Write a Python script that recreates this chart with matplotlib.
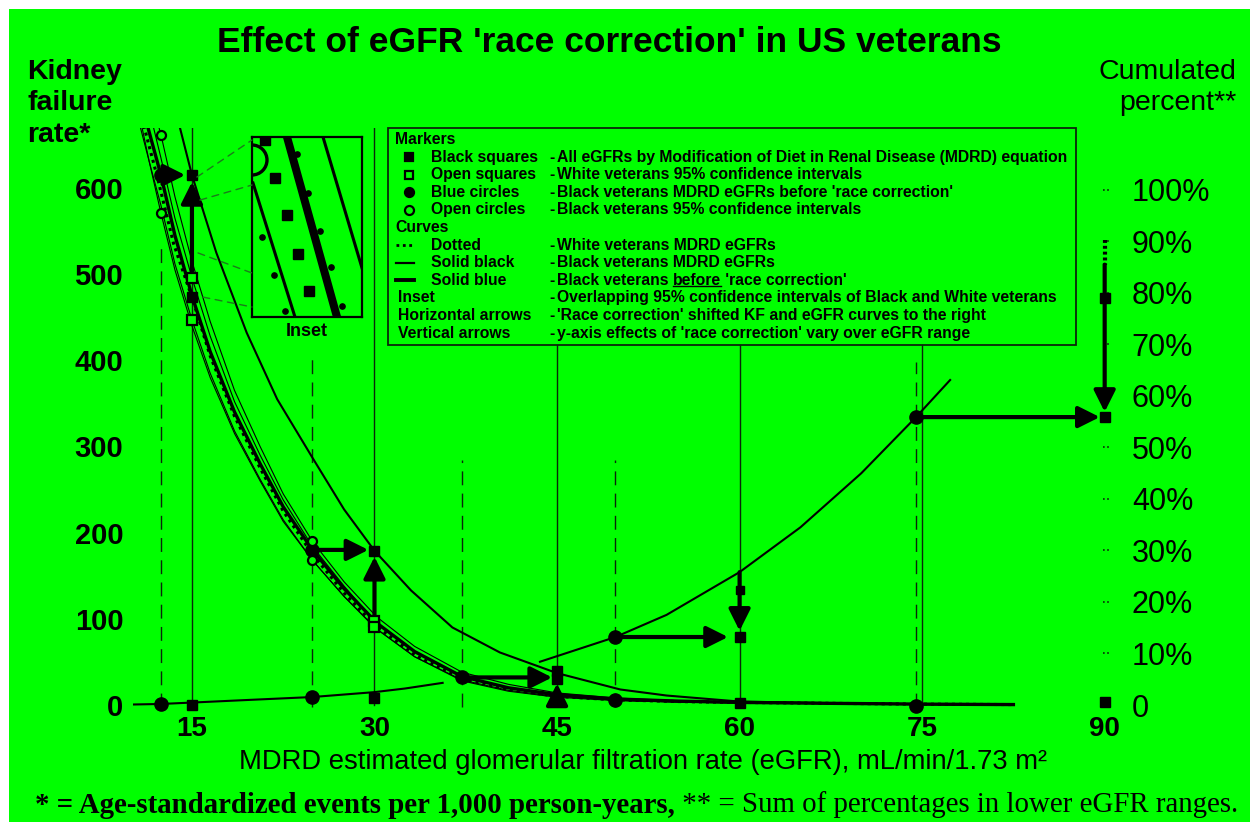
import matplotlib
matplotlib.use("Agg")
import matplotlib.pyplot as plt
from matplotlib.patches import Rectangle, Circle, ConnectionPatch
from matplotlib.lines import Line2D

plt.rcParams['font.family'] = ['Liberation Sans', 'DejaVu Sans']

# ---------------------------------------------------------------- data
title = "Effect of eGFR 'race correction' in US veterans"
left_title = ["Kidney", "failure", "rate*"]
right_title = ["Cumulated", "percent**"]
x_label = "MDRD estimated glomerular filtration rate (eGFR), mL/min/1.73 m\u00b2"
foot_bold = "* = Age-standardized events per 1,000 person-years,"
foot_normal = " ** = Sum of percentages in lower eGFR ranges."

x_ticks = [15, 30, 45, 60, 75, 90]
x_ticklabels = ["15", "30", "45", "60", "75", "90"]
y_ticks = [0, 100, 200, 300, 400, 500, 600]
y_ticklabels = ["0", "100", "200", "300", "400", "500", "600"]
pct_ticks = [0, 10, 20, 30, 40, 50, 60, 70, 80, 90, 100]
pct_ticklabels = ["0", "10%", "20%", "30%", "40%", "50%", "60%", "70%", "80%", "90%", "100%"]

# eGFR cut points after (MDRD) and before 'race correction'
egfr_after = [15, 30, 45, 60, 75]
egfr_before = [12.45, 24.9, 37.2, 49.8, 74.5]

# Kidney failure rate curves (left axis)
black_before_x = [11.0, 12.45, 13.6, 15.0, 16.5, 18.5, 20.6, 22.5, 24.9, 27.5, 30.2, 33.3, 37.2, 41.0, 45.0, 49.8, 55.0, 60.0, 67.0, 75.0, 82.5]
black_before_y = [690, 615, 545, 475, 410, 340, 280, 230, 180, 135, 95, 62, 33, 20, 12, 7, 4.5, 3, 2, 1, 0.5]
white_x = [10.9, 12.2, 13.5, 15.0, 16.5, 18.5, 20.6, 22.5, 24.9, 27.5, 30.0, 33.3, 37.2, 41.0, 45.0, 49.8, 55.0, 60.0, 67.0, 75.0, 82.5]
white_y = [680, 610, 535, 473, 405, 335, 275, 225, 175, 130, 93, 58, 30, 18, 10, 6, 4, 3, 2, 1, 0.5]
black_ci_hi_x = [11.9, 12.45, 13.6, 15.0, 16.5, 18.5, 20.6, 22.5, 24.9, 27.5, 30.2, 33.3, 37.2, 41.0, 45.0, 50.0, 55.0, 60.0, 70.0, 82.5]
black_ci_hi_y = [690, 662, 590, 515, 445, 365, 300, 245, 190, 143, 102, 68, 38, 24, 14, 8, 5, 3.5, 2, 0.6]
black_ci_lo_x = [10.4, 11.5, 12.45, 13.6, 15.0, 16.5, 18.5, 20.6, 22.5, 24.9, 27.5, 30.2, 33.3, 37.2, 41.0, 45.0, 50.0, 55.0, 60.0, 70.0, 82.5]
black_ci_lo_y = [690, 630, 571, 505, 440, 380, 315, 260, 213, 168, 126, 88, 56, 29, 17, 10, 5.5, 3.5, 2.5, 1.2, 0.4]
white_ci_hi_x = [11.5, 12.45, 13.6, 15.0, 16.5, 18.5, 20.6, 22.5, 24.9, 27.5, 30.0, 33.3, 37.2, 41.0, 45.0, 50.0, 55.0, 60.0, 70.0, 82.5]
white_ci_hi_y = [690, 635, 565, 496, 428, 352, 290, 238, 184, 138, 97, 62, 33, 20, 11, 6.5, 4.2, 3, 1.6, 0.5]
white_ci_lo_x = [10.6, 11.5, 12.45, 13.6, 15.0, 16.5, 18.5, 20.6, 22.5, 24.9, 27.5, 30.0, 33.3, 37.2, 41.0, 45.0, 50.0, 55.0, 60.0, 70.0, 82.5]
white_ci_lo_y = [690, 630, 580, 512, 447, 385, 318, 262, 215, 168, 126, 90, 56, 28, 16, 9, 5, 3.3, 2.4, 1.2, 0.4]
black_after_x = [13.4, 13.85, 15.0, 17.0, 19.5, 22.0, 24.9, 27.5, 30.0, 33.0, 36.4, 40.3, 45.0, 50.2, 54.0, 60.0, 68.0, 77.3, 82.5]
black_after_y = [700, 679, 615, 525, 432, 355, 287, 227, 179, 133, 90, 61, 37, 18, 11, 4, 2, 0.6, 0.3]

# Cumulated percent curves (right axis)
cum_low_x = [10.2, 12.45, 15.7, 19.8, 24.9, 30.0, 32.5, 35.6]
cum_low_p = [0.1, 0.2, 0.55, 1.0, 1.55, 2.5, 3.2, 4.3]
cum_high_x = [43.6, 49.8, 54.0, 60.0, 65.0, 70.0, 74.5, 77.3]
cum_high_p = [8.4, 13.2, 17.5, 25.8, 34.5, 45.0, 55.9, 63.1]

# Markers, left axis
circle_x = [12.45, 24.9, 37.2, 49.8, 74.5]
circle_y = [615, 180, 32, 6, -1]
square_x = [15, 30, 45, 45, 15, 30, 60]
square_y = [615, 179, 40, 30, 473, 93, 2.3]
open_square_x = [15, 15, 30, 30]
open_square_y = [496, 447, 97, 90]
open_circle_x = [12.45, 12.45, 24.9, 24.9]
open_circle_y = [662, 571, 190, 168]
# Markers, right axis
pct_circle_x = [12.45, 24.9, 49.8, 74.5]
pct_circle_p = [0.2, 1.55, 13.2, 55.9]
pct_square_x = [15, 30, 60, 90, 90, 90]
pct_square_p = [0.0, 1.4, 13.2, 55.9, 0.5, 79.0]
pct_small_square_x = [60]
pct_small_square_p = [22.3]

# Arrows (start -> tip), left axis
h_arrows = [(12.45, 14.45, 615), (24.9, 29.5, 180), (37.2, 44.6, 32)]
v_arrows = [(15, 500, 607), (30, 97, 172), (45, 6, 25)]
# Arrows, right axis
pct_h_arrows = [(49.8, 59.05, 13.2), (74.5, 89.6, 55.9)]
pct_v_arrows = [(60, 25.8, 14.4), (90, 85.5, 56.9)]
pct_dotted_stub = (90, 90.3, 85.5)

# Inset (magnified overlap; inset's own pixel-like units 110 x 180)
inset_src_x = [15.41, 15.66, 15.5, 15.9]
inset_src_y = [612.7, 586.0, 524.6, 473.4]
inset_thin_a = ([1, 43], [134, 0])
inset_thick = ([35, 85], [180, 0])
inset_thin_b = ([71, 110], [180, 49])
inset_sq_x = [13, 23, 35, 46, 57]
inset_sq_y = [177, 139, 102, 63, 26]
inset_dot_x = [45, 56, 68, 79, 90, 10, 22, 33]
inset_dot_y = [163, 124, 86, 50, 11, 80, 42, 6]
inset_circle = (0, 157, 15)

# Legend contents
legend_marker_rows = [
    ('s', True, 'Black squares', 'All eGFRs by Modification of Diet in Renal Disease (MDRD) equation'),
    ('s', False, 'Open squares', 'White veterans 95% confidence intervals'),
    ('o', True, 'Blue circles', "Black veterans MDRD eGFRs before 'race correction'"),
    ('o', False, 'Open circles', 'Black veterans 95% confidence intervals'),
]
legend_curve_rows = [
    ('dotted', 'Dotted', 'White veterans MDRD eGFRs'),
    ('thin', 'Solid black', 'Black veterans MDRD eGFRs'),
    ('thick', 'Solid blue', ("Black veterans ", "before", " 'race correction'")),
]
legend_note_rows = [
    ('Inset', 'Overlapping 95% confidence intervals of Black and White veterans'),
    ('Horizontal arrows', "'Race correction' shifted KF and eGFR curves to the right"),
    ('Vertical arrows', "y-axis effects of 'race correction' vary over eGFR range"),
]

# ---------------------------------------------------------------- style
W, H = 1250, 822
GREEN = '#00ff00'
INK = '#000000'
GUIDE = '#0a260a'


def fx(px):
    return px / W


def fy(py):
    return 1.0 - py / H


fig = plt.figure(figsize=(W / 100, H / 100), dpi=100)
fig.patch.set_facecolor('white')
fig.add_artist(Rectangle((fx(9), 0), 1 - fx(9), fy(9), transform=fig.transFigure,
                         facecolor=GREEN, edgecolor='none', zorder=-10))
renderer = fig.canvas.get_renderer()


def fit_width(t, target):
    bb = t.get_window_extent(renderer=renderer)
    t.set_fontsize(t.get_fontsize() * target / bb.width)


AX_L, AX_R, AX_T, AX_B = 133, 1111, 128, 712
ax = fig.add_axes([fx(AX_L), fy(AX_B), (AX_R - AX_L) / W, (AX_B - AX_T) / H])
YLO, YHI = -8.12, 669.6
ax.set_xlim(10.156, 90.52)
ax.set_ylim(YLO, YHI)
PCT = 100 / 597.7
ax2 = ax.twinx()
ax2.set_ylim(YLO * PCT, YHI * PCT)
for a in (ax, ax2):
    a.set_facecolor('none')
    for s in a.spines.values():
        s.set_visible(False)

ax.set_xticks(x_ticks, x_ticklabels)
ax.tick_params(axis='x', length=0, pad=3, labelsize=20)
ax.set_yticks(y_ticks, y_ticklabels)
ax.tick_params(axis='y', length=0, pad=7, labelsize=21)
for lbl in ax.get_xticklabels() + ax.get_yticklabels():
    lbl.set_fontweight('bold')
ax2.set_yticks(pct_ticks, pct_ticklabels)
ax2.tick_params(axis='y', length=0, pad=15, labelsize=22)

# guide lines
solid_tops = [YHI, YHI, 418, 418, 418]
for x, top in zip(egfr_after, solid_tops):
    ax.plot([x, x], [0, top], color=GUIDE, lw=1.0, zorder=1)
dashed_tops = [534, 404, 284, 284, 398]
for x, top in zip(egfr_before, dashed_tops):
    ax.plot([x, x], [-2, top], color=GUIDE, lw=1.0, linestyle=(0, (10, 6)), zorder=1)

# curves
for xs, ys in [(black_ci_hi_x, black_ci_hi_y), (black_ci_lo_x, black_ci_lo_y),
               (white_ci_hi_x, white_ci_hi_y), (white_ci_lo_x, white_ci_lo_y)]:
    ax.plot(xs, ys, color=INK, lw=0.8, zorder=2)
ax.plot(white_x, white_y, color=INK, lw=2.2, linestyle=(0, (1, 1.3)), zorder=3)
ax.plot(black_before_x, black_before_y, color=INK, lw=2.4, zorder=3)
ax.plot(black_after_x, black_after_y, color=INK, lw=1.5, zorder=3)
ax2.plot(cum_low_x, cum_low_p, color=INK, lw=1.5, zorder=3)
ax2.plot(cum_high_x, cum_high_p, color=INK, lw=1.5, zorder=3)

# arrows
ARW = dict(arrowstyle='-|>,head_length=1.0,head_width=0.5', lw=3.0, color=INK,
           shrinkA=0, shrinkB=0, mutation_scale=13)
for x0, x1, y in h_arrows:
    ax.annotate('', xy=(x1, y), xytext=(x0, y), arrowprops=ARW, zorder=5)
for x, y0, y1 in v_arrows:
    ax.annotate('', xy=(x, y1), xytext=(x, y0), arrowprops=ARW, zorder=5)
for x0, x1, p in pct_h_arrows:
    ax2.annotate('', xy=(x1, p), xytext=(x0, p), arrowprops=ARW, zorder=5)
for x, p0, p1 in pct_v_arrows:
    ax2.annotate('', xy=(x, p1), xytext=(x, p0), arrowprops=ARW, zorder=5)
ax2.plot([pct_dotted_stub[0]] * 2, pct_dotted_stub[1:], color=INK, lw=3,
         linestyle=(0, (0.7, 0.7)), zorder=5)

# markers
ax.plot(circle_x, circle_y, 'o', ms=9.5, color=INK, zorder=6, clip_on=False)
ax.plot(square_x, square_y, 's', ms=7.5, color=INK, zorder=6, clip_on=False)
ax.plot(open_square_x, open_square_y, 's', ms=6.5, mfc=GREEN, mec=INK, mew=1.6, zorder=6)
ax.plot(open_circle_x, open_circle_y, 'o', ms=6.5, mfc=GREEN, mec=INK, mew=1.6, zorder=6)
ax2.plot(pct_circle_x, pct_circle_p, 'o', ms=9.5, color=INK, zorder=6, clip_on=False)
ax2.plot(pct_square_x, pct_square_p, 's', ms=7, color=INK, zorder=6, clip_on=False)
ax2.plot(pct_small_square_x, pct_small_square_p, 's', ms=5.5, color=INK, zorder=6)
for p in pct_ticks[1:]:
    ax2.plot([89.86, 90.43], [p, p], color=GUIDE, lw=1.2, linestyle=(0, (1, 1.5)), zorder=2)

# inset
IN_L, IN_T, IN_R, IN_B = 252, 137, 362, 317
axin = fig.add_axes([fx(IN_L), fy(IN_B), (IN_R - IN_L) / W, (IN_B - IN_T) / H])
axin.set_xlim(0, IN_R - IN_L)
axin.set_ylim(0, IN_B - IN_T)
axin.set_facecolor('none')
axin.set_xticks([])
axin.set_yticks([])
for s in axin.spines.values():
    s.set_linewidth(1.6)
    s.set_color(INK)
axin.plot(*inset_thin_a, color=INK, lw=2.2)
axin.plot(*inset_thin_b, color=INK, lw=2.2)
axin.plot(*inset_thick, color=INK, lw=5.8)
axin.plot(inset_sq_x, inset_sq_y, 's', ms=6.5, color=INK)
axin.plot(inset_dot_x, inset_dot_y, 'o', ms=3.8, color=INK)
axin.add_patch(Circle(inset_circle[:2], inset_circle[2], fill=False, lw=2.4, ec=INK))
dst = [(IN_B - py) / (IN_B - IN_T) for py in (140, 185, 273, 307)]
for sx, sy, d in zip(inset_src_x, inset_src_y, dst):
    con = ConnectionPatch(xyA=(sx, sy), coordsA=ax.transData, xyB=(0, d), coordsB=axin.transAxes,
                          color='#1c7a1c', lw=1.0, linestyle=(0, (5, 4)), zorder=1)
    fig.add_artist(con)
fig.text(fx(307), fy(331), 'Inset', ha='center', va='center', fontsize=13, fontweight='bold')

# texts
t = fig.text(fx(609), fy(42), title, ha='center', va='center', fontsize=21, fontweight='bold')
fit_width(t, 782)
for i, s in enumerate(left_title):
    fig.text(fx(27), fy(72 + 31.5 * i), s, ha='left', va='center', fontsize=20.5, fontweight='bold')
for i, s in enumerate(right_title):
    fig.text(fx(1236), fy(72 + 31.5 * i), s, ha='right', va='center', fontsize=20.5)
t = fig.text(fx(643), fy(762), x_label, ha='center', va='center', fontsize=18)
fit_width(t, 807)

# footnote: bold part followed by normal part, same size, fitted to the full width
FOOT_L, FOOT_R, FOOT_Y = 35, 1240, 805
fb = fig.text(fx(FOOT_L), fy(FOOT_Y), foot_bold, ha='left', va='center', fontsize=19,
              family='Liberation Serif', fontweight='bold')
fn = fig.text(0, fy(FOOT_Y), foot_normal, ha='left', va='center', fontsize=19,
              family='Liberation Serif')
wb = fb.get_window_extent(renderer=renderer).width
wn = fn.get_window_extent(renderer=renderer).width
fs = 19 * (FOOT_R - FOOT_L) / (wb + wn)
fb.set_fontsize(fs)
fn.set_fontsize(fs)
fn.set_x(fx(FOOT_L) + fb.get_window_extent(renderer=renderer).width / W)

# legend
BOX_L, BOX_T, BOX_R, BOX_B = 388, 128, 1076, 345
fig.add_artist(Rectangle((fx(BOX_L), fy(BOX_B)), (BOX_R - BOX_L) / W, (BOX_B - BOX_T) / H,
                         transform=fig.transFigure, facecolor='none', edgecolor=GUIDE, lw=1.3))
row_y = [139.5 + 17.6 * i for i in range(12)]
COL_HEAD, COL_SYM, COL_LAB, COL_DASH, COL_DESC = 395, 409, 431, 549, 557
ref = fig.text(fx(COL_DESC), fy(row_y[1]), legend_marker_rows[0][3], ha='left', va='center',
               fontsize=11, fontweight='bold')
fit_width(ref, 1070 - COL_DESC)
LFS = ref.get_fontsize()
ref.remove()


def ltext(px, row, s, **kw):
    return fig.text(fx(px), fy(row_y[row]), s, ha='left', va='center', fontsize=LFS,
                    fontweight='bold', **kw)


ltext(COL_HEAD, 0, 'Markers')
for i, (mk, filled, lab, desc) in enumerate(legend_marker_rows):
    r = 1 + i
    fig.add_artist(Line2D([fx(COL_SYM)], [fy(row_y[r])], marker=mk, ms=6 if mk == 's' else 6.5,
                          mfc=INK if filled else GREEN, mec=INK, mew=1.6, linestyle='none',
                          transform=fig.transFigure))
    ltext(COL_LAB, r, lab)
    ltext(COL_DASH, r, '-')
    ltext(COL_DESC, r, desc)
ltext(COL_HEAD, 5, 'Curves')
for i, (kind, lab, desc) in enumerate(legend_curve_rows):
    r = 6 + i
    style = {'dotted': dict(lw=2.0, linestyle=(0, (1, 1.3))),
             'thin': dict(lw=1.6, linestyle='-'),
             'thick': dict(lw=2.8, linestyle='-')}[kind]
    fig.add_artist(Line2D([fx(396), fx(414)], [fy(row_y[r])] * 2, color=INK,
                          transform=fig.transFigure, **style))
    ltext(COL_LAB, r, lab)
    ltext(COL_DASH, r, '-')
    if isinstance(desc, tuple):
        t0 = ltext(COL_DESC, r, desc[0])
        t1 = fig.text(0, 0, desc[1], fontsize=LFS, fontweight='bold', ha='left', va='center')
        bb0 = t0.get_window_extent(renderer=renderer)
        t1.set_position((bb0.x1 / W, fy(row_y[r])))
        bb1 = t1.get_window_extent(renderer=renderer)
        fig.text(bb1.x1 / W, fy(row_y[r]), desc[2], fontsize=LFS, fontweight='bold',
                 ha='left', va='center')
        fig.add_artist(Line2D([bb1.x0 / W, bb1.x1 / W], [(bb1.y0 + 1.5) / H] * 2, color=INK,
                              lw=1.0, transform=fig.transFigure))
    else:
        ltext(COL_DESC, r, desc)
for i, (lab, desc) in enumerate(legend_note_rows):
    r = 9 + i
    ltext(398, r, lab)
    ltext(COL_DASH, r, '-')
    ltext(COL_DESC, r, desc)

fig.savefig('out.png', dpi=100, facecolor='white')
